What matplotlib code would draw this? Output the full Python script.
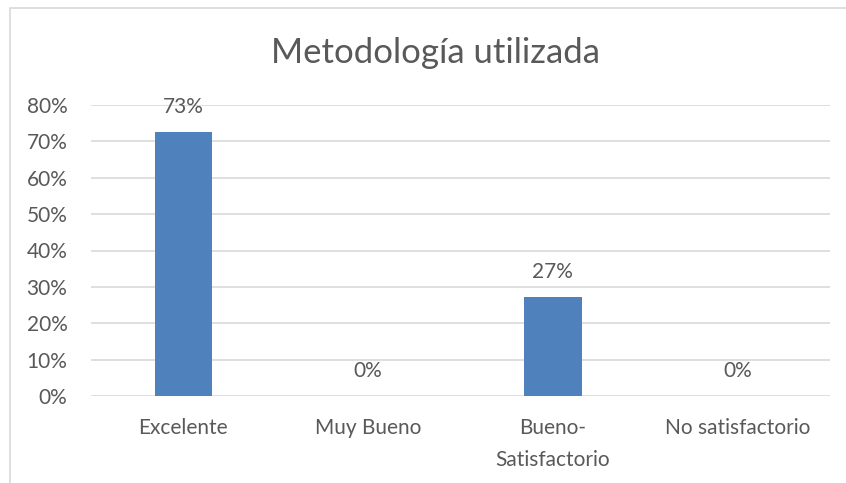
import matplotlib
matplotlib.use("Agg")
import matplotlib.pyplot as plt
from matplotlib.patches import Rectangle

plt.rcParams['font.family'] = ['Lato', 'DejaVu Sans']

categorias = ["Excelente", "Muy Bueno", "Bueno-\nSatisfactorio", "No satisfactorio"]
valores = [0.727, 0.0, 0.273, 0.0]
etiquetas = ["73%", "0%", "27%", "0%"]
ticks_y = [0, 0.1, 0.2, 0.3, 0.4, 0.5, 0.6, 0.7, 0.8]
titulo = "Metodología utilizada"

gris = "#595959"
azul = "#4F81BD"

fig = plt.figure(figsize=(8.46, 4.83), dpi=100)
# chart border (only top and left visible, the rest is cropped)
fig.patches.append(Rectangle((10 / 846, -0.1), 1.2, 1 - 8 / 483 + 0.1,
                             transform=fig.transFigure, fill=False,
                             edgecolor="#d9d9d9", linewidth=1.2))

ax = fig.add_axes([91 / 846, 1 - 396 / 483, 739 / 846, 291 / 483])
x = range(len(categorias))
ax.bar(x, valores, width=0.31, color=azul, zorder=3)

for xi, v, t in zip(x, valores, etiquetas):
    ax.annotate(t, (xi, v), xytext=(0, 18), textcoords="offset points",
                ha="center", va="center", fontsize=15, color=gris)

ax.set_xlim(-0.5, len(categorias) - 0.5)
ax.set_ylim(0, 0.8)
ax.set_yticks(ticks_y)
ax.set_yticklabels([f"{int(round(t * 100))}%" for t in ticks_y])
ax.set_xticks(list(x))
ax.set_xticklabels(categorias)
ax.tick_params(axis="both", length=0, labelsize=15, labelcolor=gris)
ax.tick_params(axis="y", pad=17)
ax.tick_params(axis="x", pad=16)
for lab in ax.get_xticklabels():
    lab.set_linespacing(1.75)
ax.grid(axis="y", color="#d9d9d9", linewidth=1.2, zorder=0)
for s in ax.spines.values():
    s.set_visible(False)

fig.text(435 / 846, 1 - 63 / 483, titulo, ha="center", va="baseline",
         fontsize=25, color=gris)

fig.savefig("out.png", dpi=100)
